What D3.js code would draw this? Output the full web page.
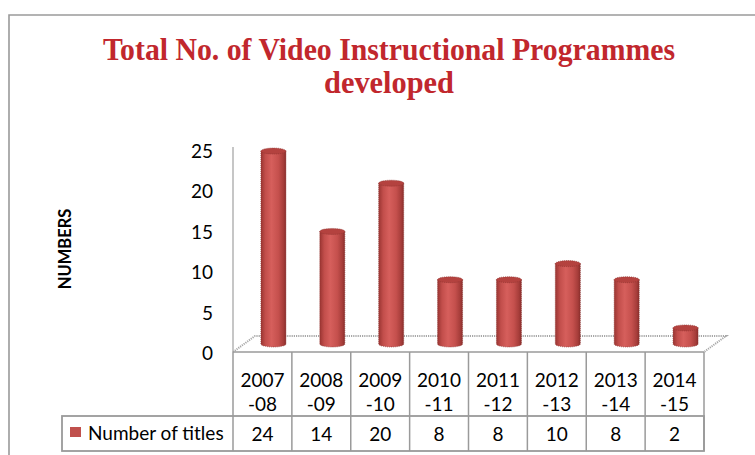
<!DOCTYPE html>
<html>
<head>
<meta charset="utf-8">
<script src="https://cdn.jsdelivr.net/npm/d3@7"></script>
<style>
  html, body { margin: 0; padding: 0; background: #fff; }
  svg { display: block; }
</style>
</head>
<body>
<svg id="chart" width="755" height="455"></svg>
<script>
// ---- data ----
const categories = ["2007-08", "2008-09", "2009-10", "2010-11", "2011-12", "2012-13", "2013-14", "2014-15"];
const values = [24, 14, 20, 8, 8, 10, 8, 2];
const yTicks = [0, 5, 10, 15, 20, 25];
const seriesName = "Number of titles";
const titleLines = ["Total No. of Video Instructional Programmes", "developed"];
const yTitle = "NUMBERS";

// ---- layout ----
const svg = d3.select("#chart");
const W = 755, H = 455;
const plotL = 233, plotR = 704;
const floorFront = 352;
const depthX = 22, depthY = -16;   // floor depth
const barDX = 11, barDY = -8;      // bars sit mid-depth
const barW = 25;
const textFont = "Lato, 'Open Sans', sans-serif";
const fs = 19;

const x = d3.scaleBand().domain(categories).range([plotL, plotR]).padding(0);
const y = d3.scaleLinear().domain([0, 25]).range([353, 151]);
const yBar = d3.scaleLinear().domain([0, 25]).range([floorFront + barDY, 151 + barDY]);

svg.append("rect").attr("width", W).attr("height", H).attr("fill", "#fff");

// chart border
svg.append("path").attr("d", `M9,${H} V15 H${W}`)
  .attr("fill", "none").attr("stroke", "#9a9a9a").attr("stroke-width", 1.6);

// title
const title = svg.append("g");
titleLines.forEach((t, i) => {
  const tx = title.append("text")
    .attr("x", 389).attr("y", i === 0 ? 60 : 93)
    .attr("text-anchor", "middle")
    .attr("font-family", "'Liberation Serif', 'Times New Roman', serif")
    .attr("font-weight", "bold")
    .attr("font-size", 32)
    .attr("fill", "#C1272D")
    .text(t);
  tx.attr("textLength", i === 0 ? 572 : 130).attr("lengthAdjust", "spacingAndGlyphs");
});

// defs: cylinder gradient
const defs = svg.append("defs");
const grad = defs.append("linearGradient").attr("id", "cyl").attr("x1", 0).attr("x2", 1).attr("y1", 0).attr("y2", 0);
[[0, "#9a3532"], [0.18, "#c24e4b"], [0.42, "#d65f5c"], [0.7, "#c5504d"], [0.9, "#a63d3a"], [1, "#8a2e2c"]]
  .forEach(([o, c]) => grad.append("stop").attr("offset", o).attr("stop-color", c));

// floor
const floor = svg.append("g");
floor.append("path")
  .attr("d", `M${plotL},${floorFront} L${plotL + depthX},${floorFront + depthY} L${plotR + depthX},${floorFront + depthY} L${plotR},${floorFront}`)
  .attr("fill", "none").attr("stroke", "#a8a8a8").attr("stroke-width", 2).attr("stroke-dasharray", "1.2 1");
floor.append("line")
  .attr("x1", plotL).attr("x2", plotR).attr("y1", floorFront).attr("y2", floorFront)
  .attr("stroke", "#9a9a9a").attr("stroke-width", 1.5);

// y axis line
svg.append("line").attr("x1", plotL).attr("x2", plotL).attr("y1", 147).attr("y2", floorFront)
  .attr("stroke", "#a0a0a0").attr("stroke-width", 1.2);

// y axis labels via d3 axis
const yAxis = d3.axisLeft(y).tickValues(yTicks).tickSize(0).tickPadding(0);
const yg = svg.append("g").attr("transform", "translate(213,0)").call(yAxis);
yg.select(".domain").remove();
yg.selectAll("text").attr("font-family", textFont).attr("font-size", fs).attr("fill", "#000").attr("dy", "0.34em");

// y title
svg.append("text")
  .attr("transform", "translate(71,249) rotate(-90)")
  .attr("text-anchor", "middle")
  .attr("font-family", textFont).attr("font-weight", "bold").attr("font-size", 16.5)
  .attr("fill", "#000").text(yTitle);

// bars (cylinders)
const bars = svg.append("g");
const ry = 3;
categories.forEach((c, i) => {
  const v = values[i];
  const cx = x(c) + x.bandwidth() / 2 + barDX;
  const x0 = cx - barW / 2;
  const yt = yBar(v), yb = yBar(0);
  const g = bars.append("g");
  g.append("path")
    .attr("d", `M${x0},${yt} L${x0},${yb} A${barW / 2},${ry} 0 0 0 ${x0 + barW},${yb} L${x0 + barW},${yt} Z`)
    .attr("fill", "url(#cyl)")
    .attr("stroke", "#8e3431").attr("stroke-width", 1).attr("stroke-dasharray", "1 1").attr("stroke-opacity", 0.7);
  g.append("ellipse")
    .attr("cx", cx).attr("cy", yt).attr("rx", barW / 2).attr("ry", ry)
    .attr("fill", "#b4423f")
    .attr("stroke", "#8e3431").attr("stroke-width", 1).attr("stroke-dasharray", "1 1").attr("stroke-opacity", 0.7);
});

// data table
const lineCol = "#9a9a9a";
const rowTop = 416, rowBot = 451, legL = 62;
const table = svg.append("g");
x.domain().concat([null]).forEach((c) => {
  const xx = c === null ? plotR : x(c);
  table.append("line").attr("x1", xx).attr("x2", xx).attr("y1", floorFront).attr("y2", rowBot)
    .attr("stroke", lineCol).attr("stroke-width", 1.5);
});
table.append("rect").attr("x", legL).attr("y", rowTop).attr("width", plotR - legL).attr("height", rowBot - rowTop)
  .attr("fill", "none").attr("stroke", lineCol).attr("stroke-width", 1.8);

categories.forEach((c) => {
  const cx = x(c) + x.bandwidth() / 2;
  const k = c.indexOf("-");
  const parts = [c.slice(0, k), c.slice(k)];
  parts.forEach((p, j) => {
    table.append("text").attr("x", cx).attr("y", j === 0 ? 387 : 411)
      .attr("text-anchor", "middle").attr("font-family", textFont).attr("font-size", fs)
      .attr("fill", "#000").text(p);
  });
});
categories.forEach((c, i) => {
  table.append("text").attr("x", x(c) + x.bandwidth() / 2).attr("y", 441)
    .attr("text-anchor", "middle").attr("font-family", textFont).attr("font-size", fs)
    .attr("fill", "#000").text(values[i]);
});
table.append("rect").attr("x", 70).attr("y", 427).attr("width", 11).attr("height", 10).attr("fill", "#C0504D");
table.append("text").attr("x", 88).attr("y", 440)
  .attr("font-family", textFont).attr("font-size", fs).attr("fill", "#000").text(seriesName);
</script>
</body>
</html>
